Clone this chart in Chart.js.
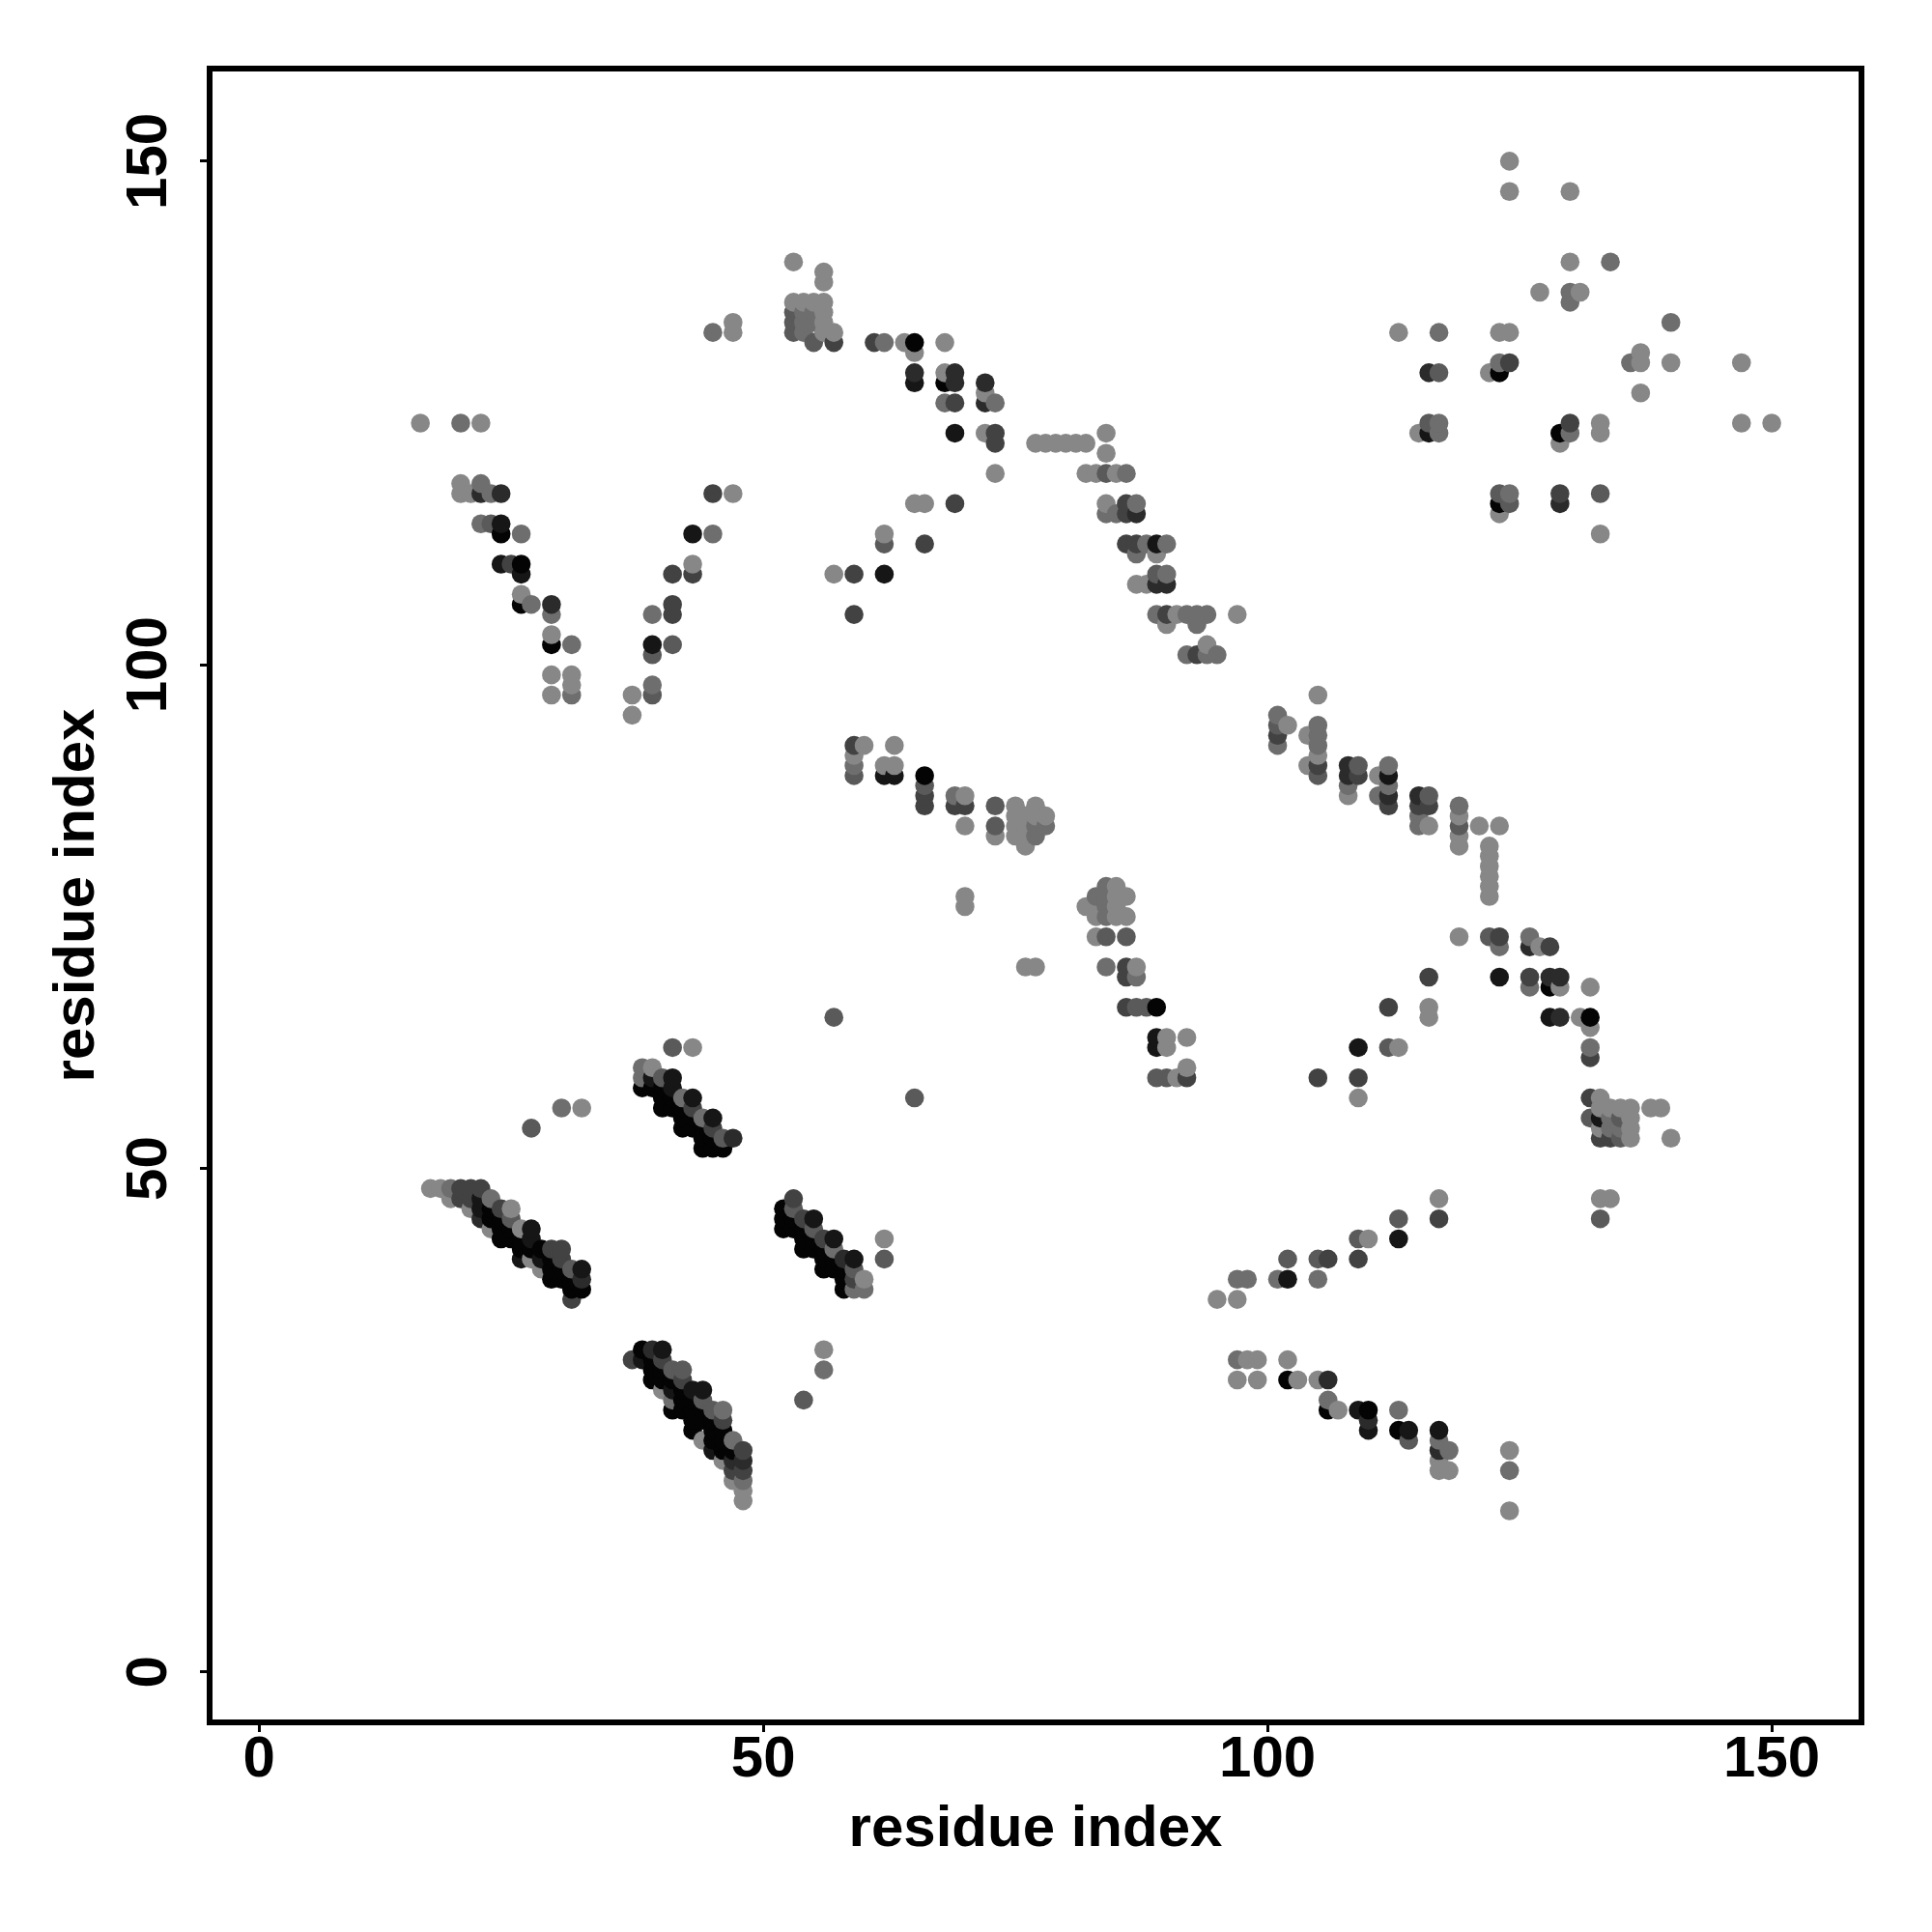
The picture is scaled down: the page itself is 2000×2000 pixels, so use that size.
<!DOCTYPE html>
<html>
<head>
<meta charset="utf-8">
<style>
  html, body { margin: 0; padding: 0; background: #fff; }
  canvas { display: block; }
</style>
<script src="https://cdn.jsdelivr.net/npm/chart.js@4/dist/chart.umd.min.js"></script>
</head>
<body>
<canvas id="contactMap" width="2000" height="2000"></canvas>
<script>
// contacts as [i, j], one list per grey level
const level0 = [[24,113],[26,110],[26,106],[29,102],[65,132],[68,128],[66,89],[89,66],[123,129],[129,123],[123,116],[128,68],[132,65],[102,29],[106,26],[110,26],[113,24],
  [52,46],[52,45],[52,44],[53,45],[53,44],[54,44],[55,43],[55,42],[54,43],[54,42],[56,42],[56,41],[56,40],[57,41],[57,40],[58,40],[58,39],[58,38],
  [38,58],[39,58],[40,58],[40,57],[40,56],[41,57],[41,56],[42,56],[42,55],[42,54],[43,55],[43,54],[44,54],[44,53],[44,52],[45,53],[45,52],[46,52],
  [23,46],[23,45],[24,45],[24,44],[25,44],[24,43],[25,43],[26,43],[26,42],[27,42],[28,42],[29,41],[29,40],[30,40],[29,39],[30,39],[31,39],[31,38],[32,38],
  [38,32],[39,31],[39,30],[40,30],[39,29],[40,29],[41,29],[42,28],[42,27],[43,27],[41,26],[42,26],[43,26],[44,26],[43,25],[44,25],[45,25],[43,24],[45,24],[46,24],[45,23],[46,23],[46,22],[47,22]];
const level1 = [[24,114],[24,110],[26,109],[39,102],[43,113],[65,128],[69,123],[62,109],[62,89],[63,89],[112,89],[89,112],[89,63],[89,62],[116,123],[123,69],[109,62],[128,65],
  [102,39],[109,26],[110,24],[114,24],[117,24],[55,45],[57,43],[59,41],[39,59],[41,59],[41,58],[43,57],[45,55],[22,47],[22,46],[27,44],[27,43],[26,41],[28,41],[32,40],[133,55],
  [40,32],[38,31],[41,28],[43,28],[44,28],[45,22],[113,43]];
const level2 = [[29,106],[24,117],[22,117],[108,90],[108,89],[115,87],[112,87],[65,129],[69,129],[69,128],[72,128],[72,126],[87,115],[89,108],[90,108],[116,129],[129,116],[126,72],[128,69],[129,69],[129,65],
  [106,29],[117,22],[110,25],[58,41],[22,45],[32,39],[39,32],[47,53],[47,21],[48,21]];
const level3 = [[25,110],[45,117],[41,109],[41,106],[41,105],[61,132],[69,126],[73,123],[57,132],[59,105],[59,109],[66,112],[69,116],[86,116],[86,115],[86,112],[87,112],[93,101],[90,105],[86,70],[86,69],[86,66],[92,59],
  [130,124],[124,130],[129,117],[101,93],[105,90],[109,89],[112,86],[115,86],[116,86],[59,92],[66,87],[66,86],[69,86],[70,86],[123,73],[128,72],[116,69],[126,69],[112,66],[105,59],[109,59],[132,61],[132,57],
  [117,45],[109,41],[106,41],[53,47],[54,45],[56,43],[59,39],[20,48],[21,48],[22,48],[20,47],[21,47],[24,46],[29,42],[30,42],[30,41],[43,56],[45,54],[37,31],[40,31],[42,29],[46,25],[48,22],[47,20],[48,20],[31,37],[73,122],[43,109],[133,53],[134,53]];
const level4 = [[23,114],[39,101],[41,102],[39,97],[53,135],[53,134],[53,133],[55,132],[84,119],[62,112],[119,84],[101,94],[105,89],[109,90],[116,87],[59,89],[66,88],[73,86],[73,84],[84,73],[86,73],[87,66],[88,66],[89,59],[90,59],[89,109],
  [123,117],[124,116],[133,117],[116,124],[117,129],[122,73],[112,62],[132,55],[135,55],[135,53],[113,45],[105,41],[102,41],[109,43],[53,46],[55,44],[59,40],[62,41],[54,27],[40,59],[44,27],[45,26],[46,53],[25,45],[41,30],[42,30],[31,40],[27,54],[41,62],[114,23],[133,45],[65,57],[57,65]];
const level5 = [[20,124],[23,117],[22,114],[26,113],[27,106],[29,105],[31,97],[39,98],[39,105],[45,113],[22,118],[31,102],[62,132],[68,126],[73,126],[54,135],[54,134],[55,135],[55,134],[54,133],[86,119],[87,116],[84,115],[85,115],
  [88,112],[90,112],[87,111],[90,109],[89,105],[92,105],[93,105],[94,105],[93,104],[92,101],[94,101],[95,101],[101,95],[101,92],[105,94],[105,93],[105,92],[112,90],[115,85],[115,84],[108,88],[112,88],[111,87],[119,86],
  [59,90],[69,87],[77,84],[77,83],[78,84],[84,78],[83,77],[84,77],[84,76],[84,75],[84,70],[87,69],[130,137],[136,130],[130,136],[134,140],[140,134],[117,133],[123,130],[124,117],[130,123],[117,123],[117,124],
  [126,73],[126,68],[123,72],[132,62],[134,55],[134,54],[135,54],[97,39],[98,39],[101,39],[105,39],[97,31],[106,27],[113,26],[117,23],[118,22],[124,20],[60,38],[59,38],[57,42],[56,30],[48,19],[38,60],[38,59],[42,57],[44,55],[19,48],[23,47],[47,23],[46,26],[30,56],[41,27],[45,133]];
const level6 = [[16,124],[22,124],[20,118],[20,117],[21,117],[26,107],[29,103],[29,99],[31,99],[31,98],[29,97],[37,97],[37,95],[43,110],[47,117],[57,109],[62,113],[47,134],[47,133],
  [53,140],[56,139],[56,138],[53,136],[54,136],[55,136],[56,136],[56,135],[56,134],[56,133],[57,133],[64,132],[65,131],[68,132],[68,129],[72,127],[72,123],[73,119],[77,122],[78,122],[79,122],[80,122],[81,122],[82,122],[84,123],[84,121],[82,119],[83,119],[85,119],[65,116],[66,116],[84,116],
  [89,111],[87,108],[88,108],[91,105],[97,105],[90,104],[94,102],[124,150],[124,147],[130,147],[130,140],[127,137],[131,137],[113,133],[123,133],[124,133],[137,131],[137,130],[140,130],[147,130],[137,127],[122,129],[115,123],[129,122],[133,124],[133,123],[147,124],[150,124],[123,115],[133,113],
  [105,97],[102,94],[104,93],[105,91],[104,90],[108,87],[111,89],[116,84],[119,85],[119,83],[119,82],[121,84],[123,84],[122,82],[122,81],[122,80],[122,79],[122,78],[122,77],
  [60,92],[63,92],[59,91],[62,90],[63,90],[70,87],[70,84],[73,83],[75,86],[75,85],[75,84],[75,83],[76,85],[76,84],[76,83],[76,82],[77,86],[77,85],[78,85],[70,77],[70,76],[76,70],[77,70],
  [85,78],[85,77],[86,77],[82,76],[83,76],[85,76],[83,75],[85,75],[86,75],[83,73],[87,70],[90,63],[92,63],[90,62],[91,59],[92,60],
  [119,73],[127,72],[129,68],[132,68],[116,66],[116,65],[131,65],[132,64],[113,62],[109,57],[133,57],[133,56],[134,56],[135,56],[136,56],[138,56],[139,56],[133,54],[136,55],[136,54],[136,53],[140,53],[117,47],[133,47],[134,47],
  [110,43],[95,37],[97,37],[98,31],[99,31],[102,31],[97,29],[99,29],[103,29],[105,29],[107,26],[124,22],[117,21],[117,20],[118,20],[124,16],[60,39],[62,43],[56,32],[43,62],[39,60],[32,56],
  [17,48],[18,48],[19,47],[21,46],[25,46],[23,44],[26,44],[27,41],[28,40],[40,28],[44,23],[46,21],[47,19],[48,18],[48,17]];

const levels = [level0, level1, level2, level3, level4, level5, level6];
const levelColors = ["#040404", "#161616", "#2b2b2b", "#424242", "#5a5a5a", "#6e6e6e", "#878787"];
const tickValues = [0, 50, 100, 150];
const axisLabel = "residue index";

// original paints column by column, bottom to top, so overlaps come out right only in that order
const points = [];
levels.forEach((list, n) => {
    list.forEach(p => points.push({ x: p[0], y: p[1], color: levelColors[n] }));
});
points.sort((a, b) => a.x - b.x || a.y - b.y);

const fontName = '"Liberation Sans", Arial, sans-serif';

// frame round the plot and the rotated y tick labels
const framePlugin = {
    id: "frame",
    afterDraw(chart) {
        const ctx = chart.ctx;
        const area = chart.chartArea;
        ctx.save();
        ctx.strokeStyle = "#000";
        ctx.lineWidth = 6;
        ctx.strokeRect(area.left, area.top, area.right - area.left, area.bottom - area.top);
        ctx.fillStyle = "#000";
        ctx.font = "bold 60px " + fontName;
        ctx.textAlign = "center";
        ctx.textBaseline = "alphabetic";
        tickValues.forEach(v => {
            ctx.save();
            ctx.translate(area.left - 45, chart.scales.y.getPixelForValue(v));
            ctx.rotate(-Math.PI / 2);
            ctx.fillText(String(v), 0, 0);
            ctx.restore();
        });
        ctx.restore();
    }
};

const fixedTicks = scale => {
    scale.ticks = tickValues.map(v => ({ value: v }));
};

new Chart(document.getElementById("contactMap"), {
    type: "scatter",
    data: {
        datasets: [{
            data: points,
            pointRadius: 9.8,
            pointHoverRadius: 9.8,
            pointBorderWidth: 0,
            pointBackgroundColor: points.map(p => p.color)
        }]
    },
    options: {
        responsive: false,
        animation: false,
        layout: { padding: { top: 71, right: 73, left: 0, bottom: 0 } },
        plugins: { legend: { display: false }, tooltip: { enabled: false } },
        scales: {
            x: {
                type: "linear",
                min: -4.9,
                max: 158.9,
                afterBuildTicks: fixedTicks,
                afterFit: s => { s.height = 217; },
                border: { display: false },
                grid: { drawOnChartArea: false, drawTicks: true, tickLength: 10, tickWidth: 3, tickColor: "#000" },
                ticks: { color: "#000", padding: -7, maxRotation: 0, font: { family: fontName, size: 60, weight: "bold" } },
                title: { display: true, text: axisLabel, color: "#000", padding: { top: 0, bottom: 70 }, font: { family: fontName, size: 60, weight: "bold" } }
            },
            y: {
                type: "linear",
                min: -5,
                max: 159.2,
                afterBuildTicks: fixedTicks,
                afterFit: s => { s.width = 217; },
                border: { display: false },
                grid: { drawOnChartArea: false, drawTicks: true, tickLength: 10, tickWidth: 3, tickColor: "#000" },
                ticks: { display: false },
                title: { display: true, text: axisLabel, color: "#000", padding: { top: 44, bottom: 0 }, font: { family: fontName, size: 60, weight: "bold" } }
            }
        }
    },
    plugins: [framePlugin]
});
</script>
</body>
</html>
